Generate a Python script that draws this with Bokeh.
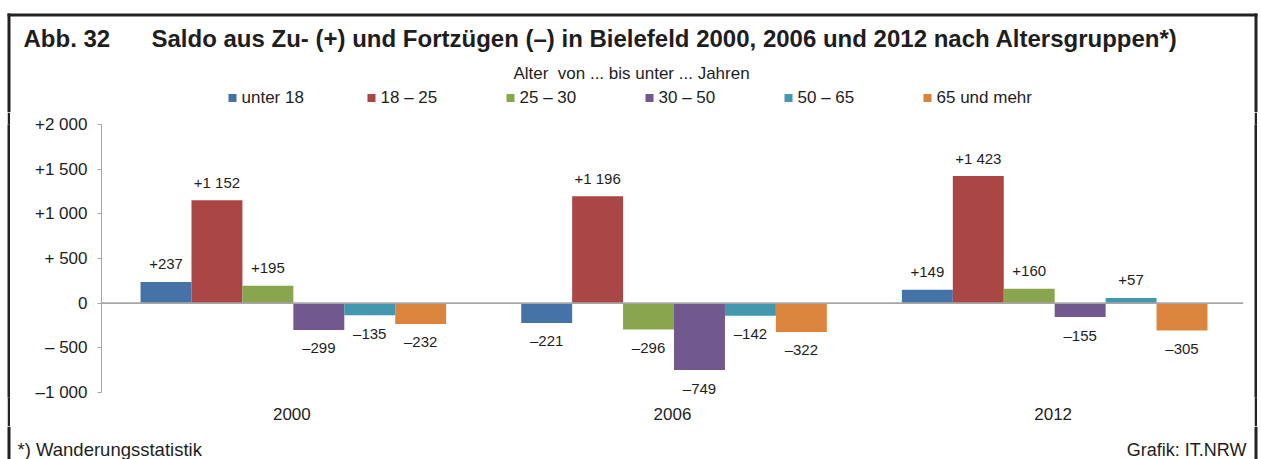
from bokeh.plotting import figure
from bokeh.layouts import column, row
from bokeh.models import (Range1d, FixedTicker, Span, Label, LabelSet, ColumnDataSource)
from bokeh.core.properties import value
from bokeh.embed import file_html
from bokeh.resources import INLINE

# ---------------- data ----------------
years = ["2000", "2006", "2012"]
groups = ["unter 18", "18 – 25", "25 – 30", "30 – 50", "50 – 65", "65 und mehr"]
unter_18 = [237, -221, 149]
age_18_25 = [1152, 1196, 1423]
age_25_30 = [195, -296, 160]
age_30_50 = [-299, -749, -155]
age_50_65 = [-135, -142, 57]
age_65_plus = [-232, -322, -305]
series = [unter_18, age_18_25, age_25_30, age_30_50, age_50_65, age_65_plus]
colors = ["#4572A7", "#AA4643", "#89A54E", "#71588F", "#4198AF", "#DB843D"]
y_ticks = [-1000, -500, 0, 500, 1000, 1500, 2000]
y_tick_labels = ["–1 000", "– 500", "0", "+ 500", "+1 000", "+1 500", "+2 000"]

title_no = "Abb. 32"
title_text = "Saldo aus Zu- (+) und Fortzügen (–) in Bielefeld 2000, 2006 und 2012 nach Altersgruppen*)"
legend_title = "Alter\u00a0 von ... bis unter ... Jahren"
footnote = "*) Wanderungsstatistik"
source_note = "Grafik: IT.NRW"

FONT = "Liberation Sans"
TXT = "#1e1e1e"
AX = "#a6a6a6"
FRAME = "#222222"

TOTAL_W = 1261
HEAD_H, MAIN_H, FOOT_H = 112, 314, 33
LPAD, BAR, RPAD = 7, 3, 4
MAIN_W = TOTAL_W - LPAD - 2 * BAR - RPAD
BX_L = LPAD + BAR / 2
BX_R = TOTAL_W - RPAD - BAR / 2
BX_T = 14.5


def fmt(v):
    sign = "+" if v > 0 else ("–" if v < 0 else "")
    return sign + f"{abs(v):,}".replace(",", " ")


def blank(w, h, y0, y1, fill="white"):
    f = figure(width=w, height=h, output_backend="svg", toolbar_location=None,
               x_range=Range1d(0, w), y_range=Range1d(y1, y0),
               x_axis_type=None, y_axis_type=None,
               min_border_left=0, min_border_right=0, min_border_top=0, min_border_bottom=0)
    f.outline_line_color = None
    f.xgrid.grid_line_color = None
    f.ygrid.grid_line_color = None
    f.background_fill_color = fill
    f.border_fill_color = fill
    return f


def txt(f, text, x, y, size, align="left", bold=False):
    f.add_layout(Label(x=x, y=y, text=text, text_font=FONT, text_font_size=size,
                       text_color=TXT, text_align=align, text_baseline="middle",
                       text_font_style="bold" if bold else "normal"))


# ---------------- header ----------------
head = blank(TOTAL_W, HEAD_H, 0, HEAD_H)
head.segment(x0=[BX_L, BX_L, BX_R], y0=[BX_T, BX_T, BX_T], x1=[BX_R, BX_L, BX_R],
             y1=[BX_T, HEAD_H, HEAD_H], line_color=FRAME, line_width=3, line_cap="square")
txt(head, title_no, 23, 38, "24px", bold=True)
txt(head, title_text, 151, 38, "24px", bold=True)
txt(head, legend_title, 631, 73, "17px", align="center")
leg_left = [228 + i * 139 for i in range(len(groups))]
leg_src = ColumnDataSource(dict(x=[l + 4 for l in leg_left], tx=[l + 13 for l in leg_left],
                                y=[97.5] * len(groups), ty=[97] * len(groups),
                                color=colors, label=groups))
head.rect(x="x", y="y", width=8, height=8, fill_color="color", line_color=None, source=leg_src)
head.add_layout(LabelSet(x="tx", y="ty", text="label", source=leg_src,
                         text_font=value(FONT), text_font_size="17px", text_color=TXT,
                         text_align="left", text_baseline="middle"))

# ---------------- side strips (frame border) ----------------
lpad = blank(LPAD, MAIN_H, 0, MAIN_H)
lbar = blank(BAR, MAIN_H, 0, MAIN_H, fill=FRAME)
rbar = blank(BAR, MAIN_H, 0, MAIN_H, fill=FRAME)
rpad = blank(RPAD, MAIN_H, 0, MAIN_H)

# ---------------- main chart ----------------
PX_PER_UNIT = 268 / 3000
Y_MIN = -1056
frame_bottom = 124 + (2000 - Y_MIN) * PX_PER_UNIT
p = figure(width=MAIN_W, height=MAIN_H, output_backend="svg", toolbar_location=None,
           x_range=Range1d(0, 3), y_range=Range1d(Y_MIN, 2000),
           min_border_left=101 - LPAD - BAR, min_border_right=(TOTAL_W - RPAD - BAR) - 1243,
           min_border_top=124 - HEAD_H, min_border_bottom=int(round(HEAD_H + MAIN_H - frame_bottom)))
p.outline_line_color = None
p.xgrid.grid_line_color = None
p.ygrid.grid_line_color = None
p.background_fill_color = "white"
p.border_fill_color = "white"

p.yaxis.ticker = FixedTicker(ticks=y_ticks)
p.yaxis.bounds = (-1000, 2000)
p.yaxis.major_label_overrides = {t: l for t, l in zip(y_ticks, y_tick_labels)}
p.yaxis.axis_line_color = AX
p.yaxis.major_tick_line_color = AX
p.yaxis.major_tick_out = 4
p.yaxis.major_tick_in = 0
p.yaxis.minor_tick_line_color = None
p.yaxis.major_label_standoff = 10
p.yaxis.major_label_text_font = FONT
p.yaxis.major_label_text_font_size = "17px"
p.yaxis.major_label_text_color = TXT

x_centers = [i + 0.5 for i in range(len(years))]
p.xaxis.ticker = FixedTicker(ticks=x_centers)
p.xaxis.major_label_overrides = {c: y for c, y in zip(x_centers, years)}
p.xaxis.axis_line_color = None
p.xaxis.major_tick_line_color = None
p.xaxis.minor_tick_line_color = None
p.xaxis.major_label_standoff = 4
p.xaxis.major_label_text_font = FONT
p.xaxis.major_label_text_font_size = "17px"
p.xaxis.major_label_text_color = TXT

p.add_layout(Span(location=0, dimension="width", line_color=AX, line_width=1.6))

bw = 0.1338
off = 18 / PX_PER_UNIT  # label offset (18 px) in data units
for i, (vals, col) in enumerate(zip(series, colors)):
    xs = [c + (i - 2.5) * bw + 0.004 for c in x_centers]
    ly = [v + off if v >= 0 else v - off for v in vals]
    src = ColumnDataSource(dict(x=xs, top=vals, ly=ly, txt=[fmt(v) for v in vals]))
    p.vbar(x="x", top="top", bottom=0, width=bw, source=src, fill_color=col, line_color=None)
    p.add_layout(LabelSet(x="x", y="ly", text="txt", source=src,
                          text_align="center", text_baseline="middle",
                          text_font=value(FONT), text_font_size="15px", text_color=TXT))

# ---------------- footer ----------------
y_foot0 = HEAD_H + MAIN_H
foot = blank(TOTAL_W, FOOT_H, y_foot0, y_foot0 + FOOT_H)
foot.segment(x0=[BX_L, BX_R], y0=[y_foot0, y_foot0], x1=[BX_L, BX_R], y1=[y_foot0 + FOOT_H] * 2,
             line_color=FRAME, line_width=3)
txt(foot, footnote, 17, 449, "18.5px")
txt(foot, source_note, 1246, 449, "18px", align="right")

layout = column(head, row(lpad, lbar, p, rbar, rpad), foot)
open("out.html", "w").write(file_html(layout, INLINE, title="Abb. 32"))
